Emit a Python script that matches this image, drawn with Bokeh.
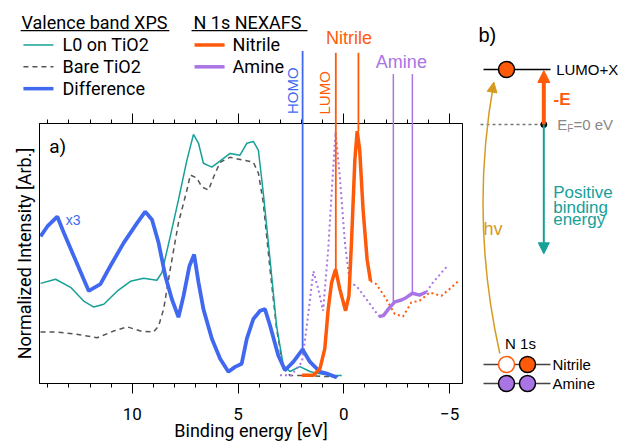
import math
from bokeh.plotting import figure
from bokeh.models import (Range1d, LinearAxis, FixedTicker, Label, Arrow, NormalHead)
from bokeh.layouts import row
from bokeh.embed import file_html
from bokeh.resources import INLINE
from bokeh.core.properties import value

# ---------------- data (binding energy in eV, intensity in arb. units) -------------
l0_E = [14.34, 13.63, 12.92, 12.30, 11.82, 11.35, 10.72, 10.09, 9.47, 8.84, 8.60, 8.21,
        7.82, 7.42, 7.11, 6.87, 6.64, 6.24, 5.69, 5.38, 4.91, 4.59, 4.28, 4.04, 3.81,
        3.49, 3.18, 2.86, 2.55, 2.08, 1.60, 1.20, 0.50, 0.10]
l0_I = [38.5, 40.1, 37.0, 31.7, 29.4, 30.5, 35.5, 39.3, 40.5, 39.7, 42.7, 56.5,
        70.6, 85.9, 95.8, 92.4, 84.7, 83.2, 86.6, 88.5, 87.8, 92.4, 93.1, 89.7, 73.3,
        47.7, 22.1, 6.9, 4.6, 6.5, 4.6, 3.8, 3.1, 3.1]

bare_E = [14.34, 13.55, 12.77, 11.67, 10.88, 10.25, 9.62, 9.00, 8.76, 8.52, 8.21, 7.82,
          7.42, 7.26, 6.95, 6.71, 6.40, 6.16, 5.85, 5.38, 4.75, 4.28, 4.04, 3.81, 3.49,
          3.18, 2.86, 2.55, 1.92, 1.00, 0.10]
bare_I = [19.8, 19.8, 19.1, 17.6, 20.2, 21.8, 20.2, 19.8, 22.1, 28.6, 43.9, 61.8,
          74.4, 80.2, 79.0, 75.6, 74.4, 79.4, 85.1, 87.0, 85.9, 85.1, 80.9, 69.5, 43.9,
          21.0, 5.7, 3.1, 3.1, 2.7, 2.7]

diff_E = [14.34, 14.02, 13.55, 13.24, 12.77, 12.30, 12.06, 11.51, 11.04, 10.41, 9.78,
          9.39, 9.07, 8.76, 8.44, 8.13, 7.82, 7.58, 7.30, 7.08, 6.87, 6.64, 6.24, 5.85,
          5.46, 5.14, 4.83, 4.59, 4.28, 3.96, 3.73, 3.49, 3.10, 2.78, 2.39, 1.95, 1.60,
          1.13, 0.80, 0.33]
diff_I = [56.6, 60.4, 64.2, 58.0, 49.0, 40.1, 35.6, 38.2, 45.2, 54.1, 61.7,
          66.1, 63.0, 54.1, 41.3, 32.4, 25.5, 33.7, 45.2, 49.6, 38.8, 28.6, 17.2, 9.5,
          4.5, 6.4, 7.6, 17.2, 24.8, 28.0, 28.6, 22.3, 10.8, 5.1, 8.3, 13.1, 8.3,
          4.5, 3.8, 2.3]

nitrile_E = [1.98, 1.44, 1.13, 0.90, 0.74, 0.58, 0.39, 0.19, -0.08, -0.24, -0.36,
             -0.52, -0.63, -0.75, -0.91, -1.10, -1.26]
nitrile_I = [3.2, 3.2, 5.7, 13.4, 28.6, 38.8, 43.9, 36.3, 28.0, 33.7, 54.1,
             85.9, 97.1, 89.7, 66.8, 47.7, 39.4]
nitrile_ext_E = [-1.26, -1.54, -2.01, -2.41, -2.80, -3.19, -3.58, -4.06, -4.61, -5.08, -5.47]
nitrile_ext_I = [39.4, 38.2, 32.4, 26.7, 25.8, 31.2, 31.8, 35.0, 33.7, 36.9, 39.8]

amine_E = [-1.66, -1.87, -2.17, -2.41, -2.72, -2.96, -3.24, -3.58, -3.90]
amine_I = [25.8, 26.1, 29.3, 31.4, 32.1, 33.1, 34.7, 34.0, 35.2]
amine_ext_E = [3.02, 2.50, 1.98, 1.75, 1.44, 1.21, 0.98, 0.74, 0.53, 0.39, 0.19,
               -0.05, -0.28, -0.60, -1.07, -1.66]
amine_ext_I = [3.2, 3.1, 8.3, 22.3, 43.2, 36.3, 28.0, 51.5, 79.5, 96.7, 79.5,
               54.1, 38.8, 37.5, 32.4, 25.8]
amine_ext2_E = [-3.90, -4.21, -4.61, -4.92]
amine_ext2_I = [35.2, 38.8, 42.6, 45.4]

# marker lines: energy, intensity at the peak
homo_E, homo_I = 1.95, 13.1
nitrile_peaks_E = [0.38, -0.69]
nitrile_peaks_I = [43.9, 97.1]
amine_peaks_E = [-2.34, -3.24]
amine_peaks_I = [31.4, 34.7]

x_major = [-5, 0, 5, 10]
x_minor = list(range(-5, 15))

legend_titles = ["Valence band XPS", "N 1s NEXAFS"]
legend_vb_labels = ["L0 on TiO2", "Bare TiO2", "Difference"]
legend_nex_labels = ["Nitrile", "Amine"]

# panel b schematic (diagram units)
b_levels = ["LUMO+X", "Nitrile", "Amine"]
b_level_y = [69, 364, 383]
b_ef_y = 124

TEAL = "#17A098"
GRAY = "#555555"
BLUE = "#4169F0"
ORANGE = "#FF5A0A"
PURPLE = "#A974E4"
GOLD = "#D69A22"
MAINFONT = "Roboto"
SANS = "Liberation Sans"

# ---------------- panel a ----------------
p = figure(width=470, height=443, x_range=Range1d(14.39, -5.61), y_range=Range1d(0, 100),
           output_backend="svg", toolbar_location=None,
           min_border_left=39, min_border_right=8, min_border_top=123, min_border_bottom=58,
           background_fill_color="white", border_fill_color="white")
p.frame_align = False
p.grid.visible = False
p.outline_line_color = "black"
p.outline_line_width = 1
p.outline_line_alpha = 1

ticker = FixedTicker(ticks=x_major, minor_ticks=x_minor)
xa = p.xaxis[0]
xa.ticker = ticker
xa.major_tick_in = 0
xa.major_tick_out = 10
xa.minor_tick_in = 0
xa.minor_tick_out = 4
xa.major_tick_line_color = "black"
xa.minor_tick_line_color = "black"
xa.axis_line_color = "black"
xa.major_label_text_font = MAINFONT
xa.major_label_text_font_size = "17px"
xa.major_label_text_color = "black"
xa.major_label_standoff = 14
xa.axis_label = "Binding energy [eV]"
xa.axis_label_text_font = MAINFONT
xa.axis_label_text_font_size = "18px"
xa.axis_label_text_font_style = "normal"
xa.axis_label_text_color = "black"
xa.axis_label_standoff = -3

top = LinearAxis(ticker=ticker, major_tick_in=0, major_tick_out=10, minor_tick_in=0,
                 minor_tick_out=4, major_label_overrides={t: "" for t in x_major},
                 major_label_standoff=0, axis_line_color="black")
p.add_layout(top, "above")

ya = p.yaxis[0]
ya.ticker = FixedTicker(ticks=[])
ya.major_tick_line_color = None
ya.minor_tick_line_color = None
ya.major_label_standoff = 0
ya.axis_line_color = "black"
ya.axis_label = "Normalized Intensity [Arb.]"
ya.axis_label_text_font = MAINFONT
ya.axis_label_text_font_size = "18px"
ya.axis_label_text_font_style = "normal"
ya.axis_label_text_color = "black"
ya.axis_label_standoff = 5

p.line(bare_E, bare_I, line_color=GRAY, line_width=1.5, line_dash="5 4")
p.line(l0_E, l0_I, line_color=TEAL, line_width=1.5)
p.line(amine_ext_E, amine_ext_I, line_color=PURPLE, line_width=2, line_dash="2 3")
p.line(amine_ext2_E, amine_ext2_I, line_color=PURPLE, line_width=2, line_dash="2 3")
p.line(nitrile_ext_E, nitrile_ext_I, line_color=ORANGE, line_width=2, line_dash="2 3")
p.line(amine_E, amine_I, line_color=PURPLE, line_width=3.5)
p.line(diff_E, diff_I, line_color=BLUE, line_width=3.8)
p.line(nitrile_E, nitrile_I, line_color=ORANGE, line_width=3.5)

# marker lines extending above the frame
p.segment(x0=[homo_E], y0=[homo_I], x1=[homo_E], y1=[127.9], line_color=BLUE,
          line_width=1.8, level="overlay")
p.segment(x0=nitrile_peaks_E, y0=nitrile_peaks_I, x1=nitrile_peaks_E, y1=[127.2, 127.2],
          line_color=ORANGE, line_width=1.8, level="overlay")
p.segment(x0=amine_peaks_E, y0=amine_peaks_I, x1=amine_peaks_E, y1=[119.0, 119.0],
          line_color=PURPLE, line_width=1.5, level="overlay")


def txt(fig, x, y, t, size, color="black", align="left", style="normal",
        font=SANS, angle=0.0):
    fig.text(x=[x], y=[y], text=[t], text_align=align, text_baseline="middle",
             text_font=value(font), text_font_size=value(size), text_color=color,
             text_font_style=style, angle=angle, level="overlay")


txt(p, -0.24, 132.9, "Nitrile", "18px", ORANGE, align="center")
txt(p, -2.72, 123.8, "Amine", "18px", PURPLE, align="center")
txt(p, 2.41, 112.6, "HOMO", "15px", BLUE, align="center", angle=math.pi / 2)
txt(p, 0.90, 111.8, "LUMO", "15px", ORANGE, align="center", angle=math.pi / 2)
p.add_layout(Label(x=13.93, y=91.2, text="a)", text_align="left", text_baseline="middle",
                   text_font=MAINFONT, text_font_size="19px", text_color="black"))
p.add_layout(Label(x=13.15, y=63.0, text="x3", text_align="left", text_baseline="middle",
                   text_font=SANS, text_font_size="14px", text_color=BLUE))

# legend drawn above the frame
txt(p, 15.24, 138.8, legend_titles[0], "18px", font=MAINFONT)
txt(p, 7.11, 138.8, legend_titles[1], "18px", font=MAINFONT)
p.segment(x0=[15.28, 7.20], y0=[135.7, 135.7], x1=[8.25, 1.72], y1=[135.7, 135.7],
          line_color="black", line_width=1.3, level="overlay")
row_y = [130.2, 121.8, 113.4]
p.segment(x0=[15.15], y0=[row_y[0]], x1=[13.73], y1=[row_y[0]], line_color=TEAL,
          line_width=1.5, level="overlay")
p.segment(x0=[15.15], y0=[row_y[1]], x1=[13.73], y1=[row_y[1]], line_color=GRAY,
          line_width=1.5, line_dash="5 4", level="overlay")
p.segment(x0=[15.15], y0=[row_y[2]], x1=[13.73], y1=[row_y[2]], line_color=BLUE,
          line_width=3.5, level="overlay")
p.segment(x0=[7.06], y0=[row_y[0]], x1=[5.64], y1=[row_y[0]], line_color=ORANGE,
          line_width=3.5, level="overlay")
p.segment(x0=[7.06], y0=[row_y[1]], x1=[5.64], y1=[row_y[1]], line_color=PURPLE,
          line_width=3.5, level="overlay")
for t, yy in zip(legend_vb_labels, row_y):
    txt(p, 13.30, yy, t, "18px", font=MAINFONT)
for t, yy in zip(legend_nex_labels, row_y):
    txt(p, 5.26, yy, t, "18px", font=MAINFONT)

# ---------------- panel b (schematic) ----------------
pb = figure(width=150, height=443, x_range=Range1d(0, 150), y_range=Range1d(443, 0),
            output_backend="svg", toolbar_location=None, min_border=0,
            x_axis_location=None, y_axis_location=None,
            background_fill_color="white", border_fill_color="white")
pb.frame_align = False
pb.grid.visible = False
pb.outline_line_color = None

pb.segment(x0=[13], y0=[b_level_y[0]], x1=[80], y1=[b_level_y[0]], line_color="black", line_width=1.5)
pb.segment(x0=[13, 13], y0=b_level_y[1:], x1=[80, 80], y1=b_level_y[1:], line_color="#444444",
           line_width=1.5)
pb.segment(x0=[10], y0=[b_ef_y], x1=[73.3], y1=[b_ef_y], line_color="#777777", line_width=1.5,
           line_dash="3 3")

pb.quadratic(x0=[29.3], y0=[353], x1=[23.3], y1=[82], cx=[-1], cy=[217], line_color=GOLD,
             line_width=1.5)
pb.add_layout(Arrow(end=NormalHead(size=10, fill_color=GOLD, line_color=GOLD),
                    x_start=22.2, y_start=88, x_end=23.3, y_end=81.7,
                    line_color=GOLD, line_width=1.5))
pb.add_layout(Arrow(end=NormalHead(size=12, fill_color=ORANGE, line_color=ORANGE),
                    x_start=73.3, y_start=b_ef_y, x_end=73.3, y_end=70,
                    line_color=ORANGE, line_width=4))
pb.add_layout(Arrow(end=NormalHead(size=11, fill_color=TEAL, line_color=TEAL),
                    x_start=73.3, y_start=b_ef_y, x_end=73.3, y_end=253.3,
                    line_color=TEAL, line_width=2))
pb.scatter(x=[73.3], y=[b_ef_y], size=6, fill_color="black", line_color="black")

pb.scatter(x=[36, 57], y=[b_level_y[0], b_level_y[1]], size=16, fill_color=ORANGE,
           line_color="black", line_width=1.5)
pb.scatter(x=[36], y=[b_level_y[1]], size=16, fill_color="white", line_color=ORANGE, line_width=1.5)
pb.scatter(x=[36, 57], y=[b_level_y[2], b_level_y[2]], size=16, fill_color=PURPLE,
           line_color="black", line_width=1.5)

txt(pb, 8, 34, "b)", "20px")
txt(pb, 85.7, b_level_y[0], b_levels[0], "15px")
txt(pb, 82, b_level_y[1], b_levels[1], "15px")
txt(pb, 82, b_level_y[2], b_levels[2], "15px")
txt(pb, 83, 98.5, "-E", "17px", ORANGE, style="bold")
txt(pb, 86.7, b_ef_y, "E", "15px", "#888888")
txt(pb, 96.7, b_ef_y + 4, "F", "10px", "#888888")
txt(pb, 103, b_ef_y, "=0 eV", "15px", "#888888")
txt(pb, 82.7, 192.0, "Positive", "17px", TEAL)
txt(pb, 82.7, 206.5, "binding", "17px", TEAL)
txt(pb, 82.7, 219.0, "energy", "17px", TEAL)
txt(pb, 13, 228, "hv", "18px", GOLD)
txt(pb, 50, 343, "N 1s", "15px", align="center")

layout = row(p, pb)
open("out.html", "w").write(file_html(layout, INLINE))
